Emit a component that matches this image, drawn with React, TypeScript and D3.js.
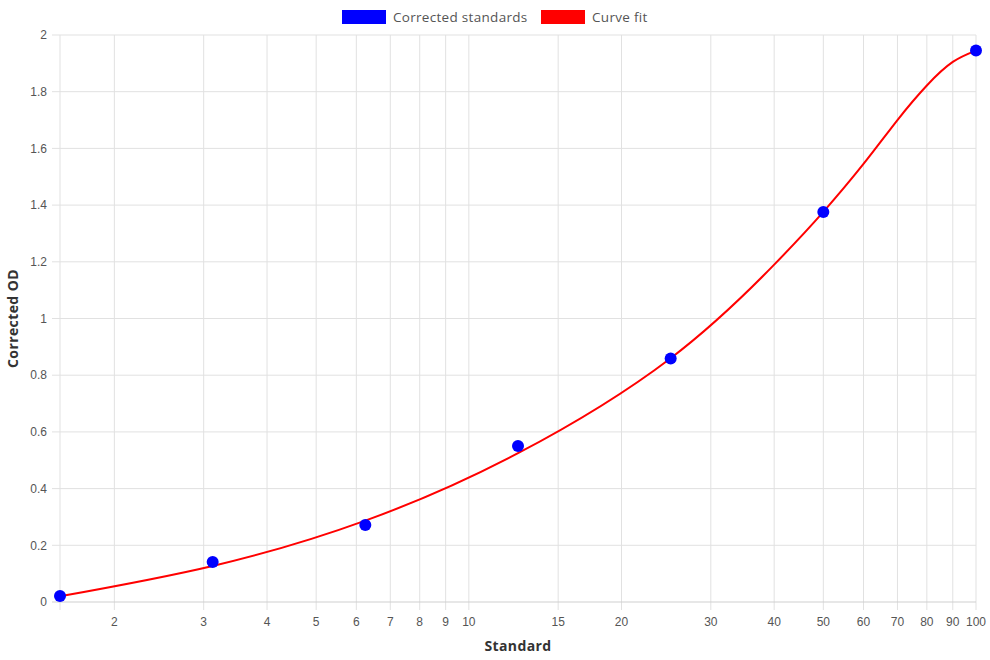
import { useEffect, useRef } from 'react';
import * as d3 from 'd3';

// standards (serial dilution) and corrected OD readings
const standards = [1.5625, 3.125, 6.25, 12.5, 25, 50, 100];
const correctedOD = [0.021, 0.141, 0.272, 0.55, 0.859, 1.376, 1.945];

// fitted curve
const fitX = [1.5625, 3.125, 6.25, 12.5, 25, 40, 50, 60, 70, 80, 90, 100];
const fitY = [0.02, 0.127, 0.287, 0.525, 0.86, 1.19, 1.376, 1.545, 1.7, 1.822, 1.905, 1.945];

const xTicks = [2, 3, 4, 5, 6, 7, 8, 9, 10, 15, 20, 30, 40, 50, 60, 70, 80, 90, 100];
const yTicks = [0, 0.2, 0.4, 0.6, 0.8, 1, 1.2, 1.4, 1.6, 1.8, 2];

const width = 990;
const height = 660;
const margin = { top: 35, right: 14, bottom: 58, left: 60 };

const tickFont = '"Liberation Sans", Arial, sans-serif';
const labelFont = '"Open Sans", "Noto Sans", sans-serif';

export default function App() {
	const svgRef = useRef<SVGSVGElement>(null);

	useEffect(() => {
		if (!svgRef.current) return;
		document.body.style.margin = '0';

		const svg = d3.select(svgRef.current);
		svg.selectAll('*').remove();

		const x = d3
			.scaleLog()
			.domain([standards[0], 100])
			.range([margin.left, width - margin.right]);
		const y = d3
			.scaleLinear()
			.domain([0, 2])
			.range([height - margin.bottom, margin.top]);

		const grid = svg.append('g');

		// vertical grid lines + tick marks
		[standards[0], ...xTicks].forEach((t) => {
			grid
				.append('line')
				.attr('x1', x(t))
				.attr('x2', x(t))
				.attr('y1', margin.top)
				.attr('y2', height - margin.bottom + 8)
				.attr('stroke', '#e1e1e1')
				.attr('stroke-width', 1);
		});

		// horizontal grid lines
		yTicks.forEach((t) => {
			grid
				.append('line')
				.attr('x1', margin.left - 8)
				.attr('x2', width - margin.right)
				.attr('y1', y(t))
				.attr('y2', y(t))
				.attr('stroke', t === 0 ? '#cfcfcf' : '#e1e1e1')
				.attr('stroke-width', 1);
		});

		// y tick labels
		svg
			.append('g')
			.selectAll('text')
			.data(yTicks)
			.enter()
			.append('text')
			.attr('x', margin.left - 13)
			.attr('y', (d) => y(d))
			.attr('dy', '0.35em')
			.attr('text-anchor', 'end')
			.attr('font-family', tickFont)
			.attr('font-size', 12)
			.attr('fill', '#555')
			.text((d) => String(d));

		// x tick labels
		svg
			.append('g')
			.selectAll('text')
			.data(xTicks)
			.enter()
			.append('text')
			.attr('x', (d) => x(d))
			.attr('y', height - margin.bottom + 24)
			.attr('text-anchor', 'middle')
			.attr('font-family', tickFont)
			.attr('font-size', 12)
			.attr('fill', '#555')
			.text((d) => String(d));

		// axis titles
		svg
			.append('text')
			.attr('x', (margin.left + width - margin.right) / 2)
			.attr('y', height - 9)
			.attr('text-anchor', 'middle')
			.attr('font-family', labelFont)
			.attr('font-weight', 700)
			.attr('font-size', 14)
			.attr('letter-spacing', 0.4)
			.attr('fill', '#333')
			.text('Standard');

		svg
			.append('text')
			.attr('transform', `translate(18,${(margin.top + height - margin.bottom) / 2}) rotate(-90)`)
			.attr('text-anchor', 'middle')
			.attr('font-family', labelFont)
			.attr('font-weight', 700)
			.attr('font-size', 14)
			.attr('letter-spacing', 0.4)
			.attr('fill', '#333')
			.text('Corrected OD');

		// curve fit
		const fitData = fitX.map((v, i) => [v, fitY[i]] as [number, number]);
		const line = d3
			.line<[number, number]>()
			.x((d) => x(d[0]))
			.y((d) => y(d[1]))
			.curve(d3.curveNatural);

		svg
			.append('path')
			.datum(fitData)
			.attr('d', line)
			.attr('fill', 'none')
			.attr('stroke', '#ff0000')
			.attr('stroke-width', 2);

		// standards points
		svg
			.append('g')
			.selectAll('circle')
			.data(standards)
			.enter()
			.append('circle')
			.attr('cx', (d) => x(d))
			.attr('cy', (d, i) => y(correctedOD[i]))
			.attr('r', 6)
			.attr('fill', '#0000ff');

		// legend
		const legend = svg
			.append('g')
			.attr('font-family', labelFont)
			.attr('font-size', 13.5)
			.attr('letter-spacing', 0.3)
			.attr('fill', '#555');
		const items = [
			{ label: 'Corrected standards', color: '#0000ff', x: 342 },
			{ label: 'Curve fit', color: '#ff0000', x: 541 },
		];
		items.forEach((it) => {
			legend
				.append('rect')
				.attr('x', it.x)
				.attr('y', 10)
				.attr('width', 44)
				.attr('height', 14)
				.attr('fill', it.color);
			legend
				.append('text')
				.attr('x', it.x + 51)
				.attr('y', 17)
				.attr('dy', '0.35em')
				.text(it.label);
		});
	}, []);

	return <svg ref={svgRef} width={width} height={height} style={{ display: 'block' }}></svg>;
}
